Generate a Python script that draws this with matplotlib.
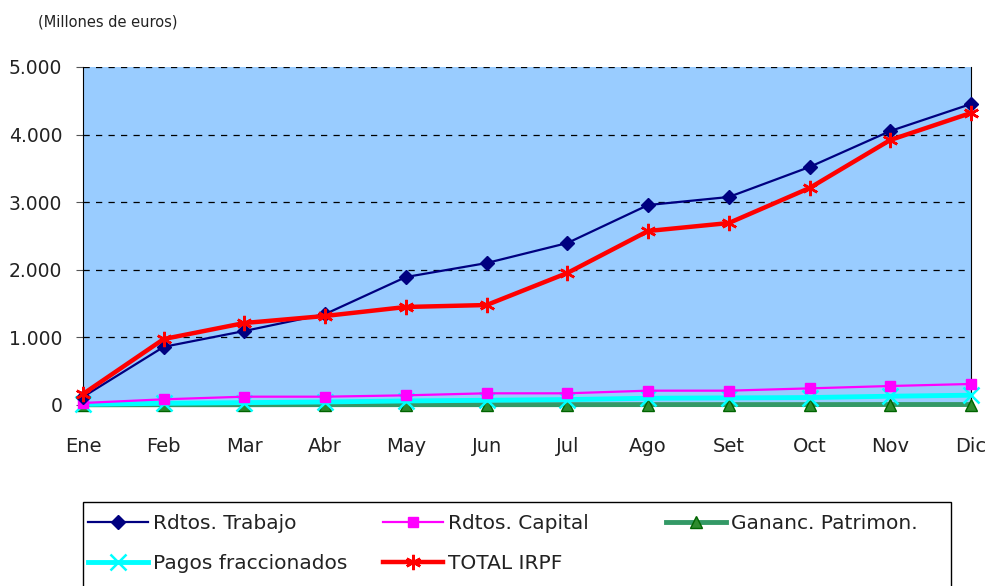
import matplotlib
matplotlib.use("Agg")
import matplotlib.pyplot as plt
from matplotlib.patches import Rectangle

plt.rcParams["font.family"] = ["DejaVu Sans"]

meses = ["Ene", "Feb", "Mar", "Abr", "May", "Jun", "Jul", "Ago", "Set", "Oct", "Nov", "Dic"]
ytick_vals = [0, 1000, 2000, 3000, 4000, 5000]
ytick_labels = ["0", "1.000", "2.000", "3.000", "4.000", "5.000"]

trabajo = [120, 860, 1095, 1345, 1893, 2100, 2396, 2958, 3077, 3521, 4053, 4453]
capital = [30, 84, 123, 123, 143, 173, 173, 212, 212, 246, 281, 311]
ganancias = [3, 4, 4, 5, 5, 5, 5, 6, 6, 6, 7, 7]
pagos = [10, 25, 35, 45, 60, 70, 80, 100, 105, 110, 130, 145]
total = [163, 976, 1213, 1317, 1450, 1479, 1953, 2574, 2692, 3210, 3920, 4320]

fig = plt.figure(figsize=(9.9, 5.86), dpi=100)
ax = fig.add_axes([83 / 990, 1 - 405 / 586, (971 - 83) / 990, (405 - 67) / 586])
ax.set_facecolor("#99CCFF")

x = list(range(len(meses)))
h_trab, = ax.plot(x, trabajo, color="#000080", lw=1.6, marker="D", ms=7,
                  mfc="#000080", mec="#000080", label="Rdtos. Trabajo", zorder=5, clip_on=False)
h_cap, = ax.plot(x, capital, color="#FF00FF", lw=1.6, marker="s", ms=7,
                 mfc="#FF00FF", mec="#FF00FF", label="Rdtos. Capital", zorder=4, clip_on=False)
h_gan, = ax.plot(x, ganancias, color="#339966", lw=3.5, marker="^", ms=8,
                 mfc="#2E8B2E", mec="#006400", label="Gananc. Patrimon.", zorder=3, clip_on=False)
h_pag, = ax.plot(x, pagos, color="#00FFFF", lw=3.5, marker="x", ms=11, mew=1.8,
                 mec="#00FFFF", label="Pagos fraccionados", zorder=3.5, clip_on=False)
h_tot, = ax.plot(x, total, color="#FF0000", lw=3.2, marker=(6, 2, 0), ms=11, mew=1.8,
                 mec="#FF0000", label="TOTAL IRPF", zorder=6, clip_on=False)

ax.set_xlim(0, 11)
ax.set_ylim(0, 5000)
ax.set_yticks(ytick_vals)
ax.set_yticklabels(ytick_labels, fontsize=13.5, color="#222222")
ax.set_xticks(x)
ax.set_xticklabels(meses, fontsize=14, color="#222222")
ax.tick_params(axis="x", length=0, pad=23)
ax.tick_params(axis="y", length=5, direction="out", color="#555555", pad=10)
ax.grid(axis="y", color="black", ls=(0, (5, 5)), lw=0.9)
for s in ["top", "bottom"]:
    ax.spines[s].set_visible(False)
ax.spines["left"].set_color("black")
ax.spines["right"].set_color("black")

fig.text(38 / 990, 1 - 22 / 586, "(Millones de euros)", fontsize=10.5,
         va="center", ha="left", color="#222222")

# legend: one frame, three columns laid out row by row like the original
fig.patches.append(Rectangle((83 / 990, -0.05), (951 - 83) / 990, 0.05 + 1 - 502 / 586,
                             transform=fig.transFigure, fill=False, ec="black", lw=1.0))
columns = [([h_trab, h_pag], 88), ([h_cap, h_tot], 383), ([h_gan], 666)]
for hs, x0 in columns:
    leg = fig.legend(hs, [h.get_label() for h in hs], loc="upper left",
                     bbox_to_anchor=(x0 / 990, 1 - 514 / 586), fontsize=14.5,
                     frameon=False, handlelength=3.0, handletextpad=0.25,
                     labelspacing=1.05, borderpad=0, borderaxespad=0)
    for t in leg.get_texts():
        t.set_color("#222222")

fig.savefig("out.png", dpi=100)
